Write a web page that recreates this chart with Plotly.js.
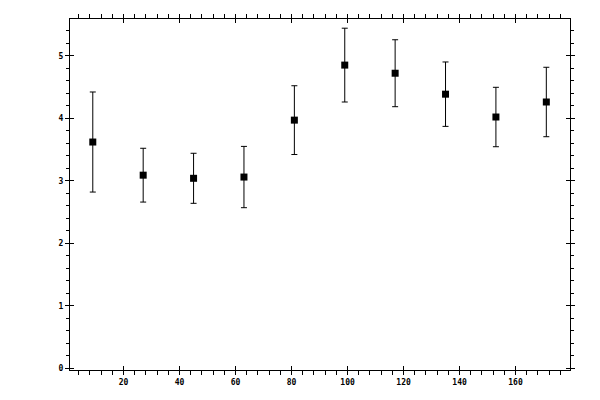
<!DOCTYPE html>
<html>
<head>
<meta charset="utf-8">
<script src="https://cdn.plot.ly/plotly-3.0.1.min.js"></script>
<style>html,body{margin:0;padding:0;background:#fff;}#chart{width:600px;height:400px;}</style>
</head>
<body>
<div id="chart"></div>
<script>
var binCenters = [9, 27, 45, 63, 81, 99, 117, 135, 153, 171];
var meanValues = [3.62, 3.09, 3.04, 3.06, 3.97, 4.85, 4.72, 4.385, 4.02, 4.26];
var errValues  = [0.80, 0.43, 0.40, 0.49, 0.55, 0.59, 0.535, 0.515, 0.475, 0.555];

var fontSpec = {family: 'DejaVu Sans Mono', size: 8, color: '#000', weight: 'bold'};
var xr = [0.86, 179.46];
var yr = [-0.025, 5.587];

var main = {
  x: binCenters, y: meanValues,
  type: 'scatter', mode: 'markers',
  marker: {symbol: 'square', size: 7, color: '#000'},
  error_y: {type: 'data', array: errValues, visible: true, color: '#000', thickness: 1, width: 3},
  hoverinfo: 'skip', showlegend: false
};
var ghost = {
  x: binCenters, y: meanValues, xaxis: 'x2', yaxis: 'y2',
  type: 'scatter', mode: 'markers', marker: {opacity: 0},
  hoverinfo: 'skip', showlegend: false
};

var layout = {
  width: 600, height: 400,
  margin: {l: 70, r: 30, t: 19, b: 30},
  paper_bgcolor: '#fff', plot_bgcolor: '#fff',
  showlegend: false,
  xaxis: {
    range: xr, showgrid: false, zeroline: false,
    showline: true, linecolor: '#000', linewidth: 1, mirror: 'ticks',
    ticks: 'outside', ticklen: 4, tickwidth: 1, tickcolor: '#000',
    tick0: 0, dtick: 20, tickfont: fontSpec,
    minor: {ticks: 'outside', ticklen: 4, tickwidth: 1, tickcolor: '#000', tick0: 0, dtick: 4, showgrid: false}
  },
  yaxis: {
    range: yr, showgrid: false, zeroline: false,
    showline: true, linecolor: '#000', linewidth: 1, mirror: 'ticks',
    ticks: 'outside', ticklen: 4, tickwidth: 1, tickcolor: '#000',
    tick0: 0, dtick: 1, tickfont: fontSpec,
    minor: {ticks: 'outside', ticklen: 3, tickwidth: 1, tickcolor: '#000', tick0: 0, dtick: 0.2, showgrid: false}
  },
  xaxis2: {
    overlaying: 'x', anchor: 'y2', range: xr, showgrid: false, zeroline: false,
    showline: false, mirror: 'ticks', ticks: 'inside', ticklen: 4, tickwidth: 1, tickcolor: '#000',
    tick0: 0, dtick: 20, showticklabels: false
  },
  yaxis2: {
    overlaying: 'y', anchor: 'x2', range: yr, showgrid: false, zeroline: false,
    showline: false, mirror: 'ticks', ticks: 'inside', ticklen: 4, tickwidth: 1, tickcolor: '#000',
    tick0: 0, dtick: 1, showticklabels: false
  }
};

Plotly.newPlot('chart', [main, ghost], layout, {staticPlot: true, displayModeBar: false});
</script>
</body>
</html>
